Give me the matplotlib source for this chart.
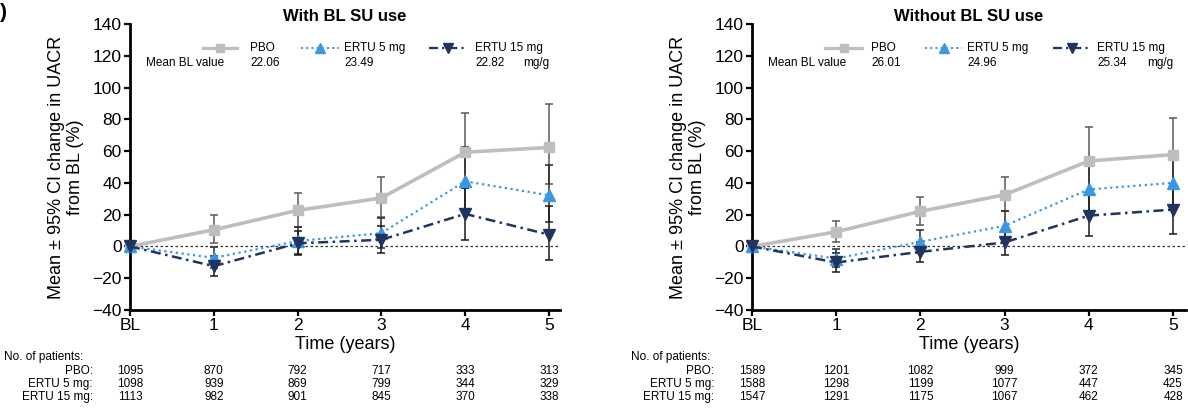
import matplotlib
matplotlib.use('Agg')
import matplotlib.pyplot as plt
from matplotlib.lines import Line2D
from matplotlib.transforms import blended_transform_factory

plt.rcParams['font.family'] = ['Liberation Sans', 'DejaVu Sans']

W, H = 1188, 409

years = [0, 1, 2, 3, 4, 5]
xticklabels = ['BL', '1', '2', '3', '4', '5']
group_names = ['PBO', 'ERTU 5 mg', 'ERTU 15 mg']

# With BL SU use
pbo_with = [0, 10.5, 22.7, 30.5, 59.3, 62.3]
pbo_with_lo = [0, 2.1, 12.3, 18.5, 37.0, 39.0]
pbo_with_hi = [0, 20.0, 33.9, 43.5, 84.1, 89.4]
e5_with = [0, -7.2, 3.4, 8.4, 41.0, 32.2]
e5_with_lo = [0, -13.5, -4.5, -1.0, 22.0, 15.3]
e5_with_hi = [0, -0.5, 12.0, 18.0, 62.6, 51.5]
e15_with = [0, -12.4, 2.0, 4.2, 20.5, 7.4]
e15_with_lo = [0, -18.7, -5.3, -4.0, 4.2, -8.4]
e15_with_hi = [0, -6.0, 10.0, 13.0, 37.0, 25.2]
bl_with = ['22.06', '23.49', '22.82']
n_with = [
    [1095, 870, 792, 717, 333, 313],
    [1098, 939, 869, 799, 344, 329],
    [1113, 982, 901, 845, 370, 338],
]

# Without BL SU use
pbo_wo = [0, 9.2, 22.1, 32.5, 53.8, 57.8]
pbo_wo_lo = [0, 2.5, 13.5, 22.0, 34.0, 37.0]
pbo_wo_hi = [0, 15.8, 31.0, 43.7, 74.9, 80.8]
e5_wo = [0, -7.6, 2.9, 13.0, 35.9, 40.0]
e5_wo_lo = [0, -13.0, -4.0, 4.0, 20.0, 25.0]
e5_wo_hi = [0, -1.3, 10.3, 22.0, 52.0, 55.0]
e15_wo = [0, -10.1, -3.4, 2.5, 19.4, 23.2]
e15_wo_lo = [0, -15.8, -9.7, -5.5, 6.5, 8.0]
e15_wo_hi = [0, -4.0, 3.0, 10.0, 33.0, 38.0]
bl_wo = ['26.01', '24.96', '25.34']
n_wo = [
    [1589, 1201, 1082, 999, 372, 345],
    [1588, 1298, 1199, 1077, 447, 425],
    [1547, 1291, 1175, 1067, 462, 428],
]

styles = [
    dict(color='#BEBEBE', ls='-', lw=2.6, marker='s', ms=7, ecolor='#5a5a5a'),
    dict(color='#3A97E3', ls=(0, (1, 1.6)), lw=1.6, marker='^', ms=8, ecolor='#2a2a2a'),
    dict(color='#1F3560', ls=(0, (4, 1.8, 1, 1.8)), lw=1.8, marker='v', ms=8, ecolor='#1a1a1a'),
]


def fx(x):
    return x / W


def fy(y):
    return 1 - y / H


fig = plt.figure(figsize=(W / 100, H / 100), dpi=100)
fig.text(fx(0), fy(12), ')', fontsize=15, fontweight='bold', va='center', ha='left')


def panel(left, right, tick5, title, series, bl_vals, counts, leg):
    ax = fig.add_axes([fx(left), fy(310), fx(right - left), (310 - 24) / H])
    per_year = (tick5 - left) / 5
    ax.set_xlim(0, (right - left) / per_year)
    ax.set_ylim(-40, 140)
    ax.set_yticks(range(-40, 141, 20))
    ax.set_yticklabels(['\u221240', '\u221220', '0', '20', '40', '60', '80', '100', '120', '140'])
    ax.set_xticks(years)
    ax.set_xticklabels(xticklabels)
    for s in ['top', 'right']:
        ax.spines[s].set_visible(False)
    for s in ['left', 'bottom']:
        ax.spines[s].set_linewidth(2)
    ax.tick_params(direction='out', length=4, width=1.6, labelsize=12.5, pad=2)
    ax.axhline(0, color='#333333', lw=0.9, ls=(0, (2, 2)), zorder=1)

    for (mean, lo, hi), st in zip(series, styles):
        yerr = [[m - l for m, l in zip(mean[1:], lo[1:])],
                [h - m for m, h in zip(mean[1:], hi[1:])]]
        ax.errorbar(years[1:], mean[1:], yerr=yerr, fmt='none', ecolor=st['ecolor'],
                    elinewidth=1.1, capsize=3, capthick=1.1, zorder=2)
    for (mean, lo, hi), st in zip(series, styles):
        ax.plot(years, mean, color=st['color'], ls=st['ls'], lw=st['lw'],
                marker=st['marker'], ms=st['ms'], mfc=st['color'], mec=st['color'],
                clip_on=False, zorder=3)

    ax.set_title(title, fontsize=12, fontweight='bold', pad=1)
    ax.set_ylabel('Mean \u00b1 95% CI change in UACR\nfrom BL (%)', fontsize=13, labelpad=6,
                  linespacing=1.15)
    ax.set_xlabel('Time (years)', fontsize=13, labelpad=2)

    # legend with mean baseline values
    fig.text(fx(leg['mean']), fy(63), 'Mean BL value', fontsize=8.5, va='center', ha='left')
    for i, st in enumerate(styles):
        x0, x1 = leg['lines'][i]
        fig.add_artist(Line2D([fx(x0), fx(x1)], [fy(48), fy(48)], color=st['color'],
                              ls=st['ls'], lw=st['lw'] * 0.9))
        fig.add_artist(Line2D([fx((x0 + x1) / 2)], [fy(48)], color=st['color'],
                              marker=st['marker'], ms=st['ms'] * 0.9, ls='none'))
        fig.text(fx(leg['labels'][i]), fy(48), group_names[i], fontsize=8.5, va='center', ha='left')
        fig.text(fx(leg['labels'][i]), fy(63), bl_vals[i], fontsize=8.5, va='center', ha='left')
    fig.text(fx(leg['unit']), fy(63), 'mg/g', fontsize=8.5, va='center', ha='left')

    # patients at risk table
    tr = blended_transform_factory(ax.transData, fig.transFigure)
    fig.text(fx(leg['table']), fy(357), 'No. of patients:', fontsize=8.5, va='center', ha='left')
    row_y = [371, 384, 397]
    for i, row in enumerate(counts):
        fig.text(fx(leg['rowlab']), fy(row_y[i]), group_names[i] + ':', fontsize=8.5,
                 va='center', ha='right')
        for yr, n in zip(years, row):
            ax.text(yr, fy(row_y[i]), str(n), transform=tr, fontsize=8.5, va='center',
                    ha='center')
    return ax


panel(130, 560, 549, 'With BL SU use',
      [(pbo_with, pbo_with_lo, pbo_with_hi), (e5_with, e5_with_lo, e5_with_hi),
       (e15_with, e15_with_lo, e15_with_hi)],
      bl_with, n_with,
      dict(mean=146, lines=[(203, 237), (301, 339), (429, 466)], labels=[250, 344, 475],
           unit=523, table=4, rowlab=93))

panel(752, 1186, 1173, 'Without BL SU use',
      [(pbo_wo, pbo_wo_lo, pbo_wo_hi), (e5_wo, e5_wo_lo, e5_wo_hi),
       (e15_wo, e15_wo_lo, e15_wo_hi)],
      bl_wo, n_wo,
      dict(mean=768, lines=[(825, 862), (925, 962), (1053, 1090)], labels=[871, 967, 1097],
           unit=1147, table=631, rowlab=714))

fig.savefig('out.png', dpi=100)
